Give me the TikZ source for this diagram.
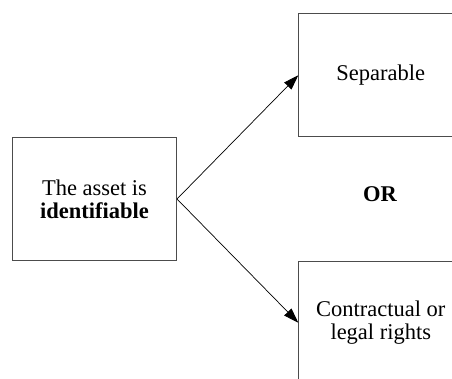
\documentclass[tikz,border=0pt]{standalone}
\usepackage{fontspec}
\setmainfont{Liberation Serif}
\usetikzlibrary{arrows.meta}
\begin{document}
\begin{tikzpicture}[x=1pt,y=-1pt,
  txt/.style={font=\fontsize{22.5}{23.3}\selectfont, align=center, inner sep=0pt},
  box/.style={txt, draw=black!70, line width=1pt, minimum width=164pt,
    minimum height=123pt, anchor=north west},
  link/.style={-{Triangle[length=15pt,width=10pt]}, line width=0.7pt}]
\useasboundingbox (0,0) rectangle (452,379);
\clip (0,0) rectangle (452,379);
% the three boxes; the right-hand ones run past the page edge
\node[box] (asset) at (12,137) {The asset is\\\textbf{identifiable}};
\node[box] (separable) at (298.3,13.3) {Separable};
\node[box] (legal) at (298.3,260.7) {Contractual or\\legal rights};
\node[txt] (or) at (380,194) {\textbf{OR}};
% connectors
\draw[link] (asset.east) -- (separable.west);
\draw[link] (asset.east) -- (legal.west);
\end{tikzpicture}
\end{document}
